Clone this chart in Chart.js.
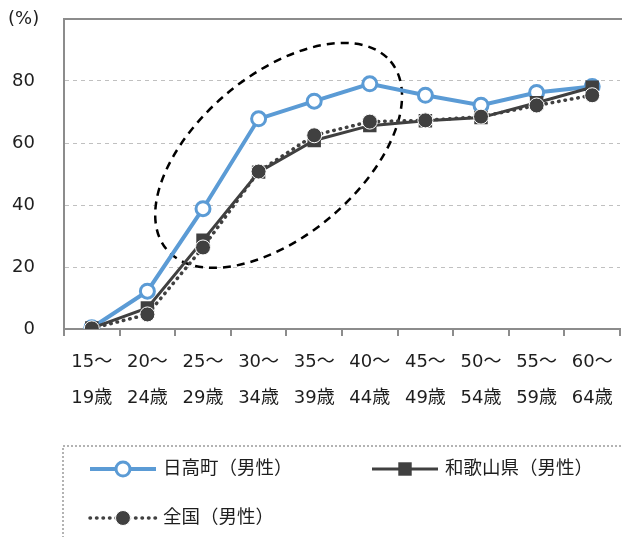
<!DOCTYPE html>
<html lang="ja">
<head>
    <meta charset="UTF-8">
    <title>男性の年齢別労働力率</title>
    <style>
        body {
            margin: 0;
            padding: 0;
            background: #fff;
            overflow: hidden;
        }
        #wrap {
            width: 630px;
            height: 537px;
        }
    </style>
    <script src="https://cdn.jsdelivr.net/npm/chart.js@4"></script>
</head>
<body>
<div id="wrap"><canvas id="chartCanvas" width="630" height="537"></canvas></div>
<script>
    // age groups (two-line labels)
    const ageGroups = [
        ['15～', '19歳'], ['20～', '24歳'], ['25～', '29歳'], ['30～', '34歳'], ['35～', '39歳'],
        ['40～', '44歳'], ['45～', '49歳'], ['50～', '54歳'], ['55～', '59歳'], ['60～', '64歳']
    ];
    const seriesNames = ['日高町（男性）', '和歌山県（男性）', '全国（男性）'];
    const hidakaMale = [0.4, 12.2, 38.8, 67.8, 73.5, 79.1, 75.4, 72.2, 76.3, 78.2];
    const wakayamaMale = [0.3, 6.8, 28.6, 50.6, 60.8, 65.6, 67.2, 68.2, 73.0, 78.0];
    const nationalMale = [0.2, 4.7, 26.3, 50.8, 62.5, 66.9, 67.3, 68.5, 72.1, 75.4];
    const yTicks = [0, 20, 40, 60, 80];

    const blue = '#5B9BD5';
    const dark = '#404040';
    const axisGray = '#8c8c8c';
    const textColor = '#1e1e1e';
    const fontFamily = '"DejaVu Sans", "Noto Sans CJK JP", sans-serif';

    // dashed ellipse around 25-44 (center in data units, radii in category widths)
    const highlight = { x: 3.36, y: 56, rx: 2.63, ry: 1.45, angle: -40 };

    const extras = {
        id: 'extras',
        beforeDatasetsDraw(chart) {
            const ctx = chart.ctx;
            const xs = chart.scales.x, ys = chart.scales.y;
            const step = xs.getPixelForValue(1) - xs.getPixelForValue(0);
            ctx.save();
            ctx.strokeStyle = '#000';
            ctx.lineWidth = 2.5;
            ctx.setLineDash([8, 6]);
            ctx.beginPath();
            ctx.ellipse(xs.getPixelForValue(highlight.x), ys.getPixelForValue(highlight.y),
                highlight.rx * step, highlight.ry * step, highlight.angle * Math.PI / 180, 0, Math.PI * 2);
            ctx.stroke();
            ctx.restore();
        },
        afterDraw(chart) {
            const ctx = chart.ctx;
            const a = chart.chartArea;
            const ys = chart.scales.y;
            ctx.save();
            // top frame line
            ctx.strokeStyle = axisGray;
            ctx.lineWidth = 2;
            ctx.beginPath();
            ctx.moveTo(a.left - 1, a.top);
            ctx.lineTo(chart.width, a.top);
            ctx.stroke();

            ctx.fillStyle = textColor;
            ctx.font = '18px ' + fontFamily;
            ctx.textBaseline = 'middle';
            ctx.textAlign = 'left';
            ctx.fillText('(%)', 8, 19);

            // y tick labels, right aligned well left of the axis
            ctx.textAlign = 'right';
            ys.ticks.forEach(t => {
                ctx.fillText(String(t.value), a.left - 29, ys.getPixelForValue(t.value));
            });
            ctx.textAlign = 'left';

            // legend box
            ctx.strokeStyle = '#9a9a9a';
            ctx.lineWidth = 1.5;
            ctx.setLineDash([2, 2]);
            ctx.strokeRect(63, 446, 600, 120);
            ctx.setLineDash([]);

            const ds = chart.data.datasets;
            const items = [
                { d: ds[0], x: 90, y: 469 },
                { d: ds[1], x: 372, y: 469 },
                { d: ds[2], x: 90, y: 518 }
            ];
            items.forEach(it => {
                const d = it.d;
                const cx = it.x + 33;
                ctx.save();
                ctx.strokeStyle = d.borderColor;
                ctx.lineWidth = d.borderWidth;
                ctx.lineCap = d.borderCapStyle || 'butt';
                ctx.setLineDash(d.borderDash || []);
                ctx.beginPath();
                ctx.moveTo(it.x, it.y);
                ctx.lineTo(it.x + 66, it.y);
                ctx.stroke();
                ctx.setLineDash([]);
                ctx.fillStyle = d.pointBackgroundColor;
                ctx.strokeStyle = d.pointBorderColor;
                ctx.lineWidth = d.pointBorderWidth;
                ctx.beginPath();
                if (d.pointStyle === 'rect') {
                    const s = d.pointRadius * Math.SQRT1_2;
                    ctx.rect(cx - s, it.y - s, 2 * s, 2 * s);
                } else {
                    ctx.arc(cx, it.y, d.pointRadius, 0, Math.PI * 2);
                }
                ctx.fill();
                if (d.pointBorderWidth) ctx.stroke();
                ctx.restore();
                ctx.fillStyle = textColor;
                ctx.font = '18.5px ' + fontFamily;
                ctx.fillText(d.label, it.x + 73, it.y);
            });
            ctx.restore();
        }
    };

    new Chart(document.getElementById('chartCanvas').getContext('2d'), {
        type: 'line',
        data: {
            labels: ageGroups,
            datasets: [
                {
                    label: seriesNames[0],
                    data: hidakaMale,
                    borderColor: blue,
                    borderWidth: 4,
                    pointStyle: 'circle',
                    pointRadius: 7,
                    pointBackgroundColor: '#fff',
                    pointBorderColor: blue,
                    pointBorderWidth: 3,
                    order: 3
                },
                {
                    label: seriesNames[1],
                    data: wakayamaMale,
                    borderColor: dark,
                    borderWidth: 3,
                    pointStyle: 'rect',
                    pointRadius: 9.5,
                    pointBackgroundColor: dark,
                    pointBorderColor: '#fff',
                    pointBorderWidth: 0,
                    order: 2
                },
                {
                    label: seriesNames[2],
                    data: nationalMale,
                    borderColor: dark,
                    borderWidth: 3.5,
                    borderDash: [0.5, 6],
                    borderCapStyle: 'round',
                    pointStyle: 'circle',
                    pointRadius: 7.5,
                    pointBackgroundColor: dark,
                    pointBorderColor: '#fff',
                    pointBorderWidth: 1,
                    order: 1
                }
            ]
        },
        options: {
            responsive: false,
            animation: false,
            layout: { padding: { top: 19, right: 5, bottom: 122, left: 0 } },
            plugins: {
                legend: { display: false },
                tooltip: { enabled: false }
            },
            scales: {
                x: {
                    offset: true,
                    grid: {
                        offset: true,
                        drawOnChartArea: false,
                        drawTicks: true,
                        tickLength: 7,
                        color: axisGray,
                        lineWidth: 2
                    },
                    border: { color: axisGray, width: 2 },
                    ticks: {
                        color: textColor,
                        padding: 8,
                        maxRotation: 0,
                        autoSkip: false,
                        font: { family: fontFamily, size: 18, lineHeight: '36px' }
                    },
                    afterFit(scale) { scale.height = 86; }
                },
                y: {
                    min: 0,
                    max: 100,
                    afterBuildTicks(scale) {
                        scale.ticks = yTicks.map(v => ({ value: v }));
                    },
                    grid: {
                        drawTicks: false,
                        color: c => (c.tick && c.tick.value > 0) ? '#c0c0c0' : 'rgba(0,0,0,0)',
                        lineWidth: 1
                    },
                    border: { color: axisGray, width: 2, dash: [4, 4] },
                    ticks: { display: false },
                    afterFit(scale) {
                        scale.width = 64;
                        scale.paddingTop = 0;
                        scale.paddingBottom = 0;
                    }
                }
            }
        },
        plugins: [extras]
    });
</script>
</body>
</html>
